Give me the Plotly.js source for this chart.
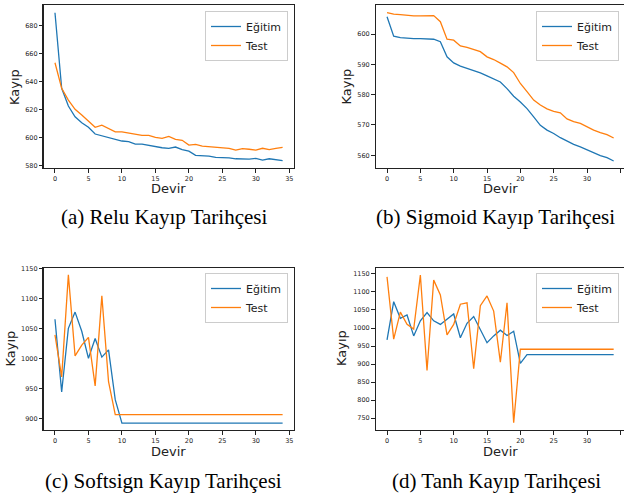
<!DOCTYPE html>
<html>
<head>
<meta charset="utf-8">
<script src="https://cdn.plot.ly/plotly-3.0.1.min.js"></script>
<style>html,body{margin:0;padding:0;background:#fff;}#chart{width:624px;height:497px;}</style>
</head>
<body>
<div id="chart"></div>
<script>
const epochs = [0,1,2,3,4,5,6,7,8,9,10,11,12,13,14,15,16,17,18,19,20,21,22,23,24,25,26,27,28,29,30,31,32,33,34];

const reluTrain = [689.5,635.4,622.7,615.0,610.8,607.5,602.7,601.5,600.3,598.9,597.7,597.2,595.5,595.5,594.6,593.9,592.9,592.5,593.4,591.5,590.5,587.4,587.4,586.9,586.0,586.0,585.6,585.0,584.8,584.8,585.3,584.1,585.0,584.3,583.6];
const reluTest  = [653.7,635.4,627.0,620.4,616.3,612.2,607.5,609.1,606.5,604.3,604.3,603.4,602.5,601.8,601.8,600.3,599.6,601.0,598.9,598.2,594.8,595.3,594.1,593.7,593.4,592.5,592.5,591.2,592.3,591.8,591.2,592.5,591.6,592.5,593.2];

const sigTrain = [605.7,599.3,598.8,598.6,598.5,598.5,598.5,598.3,597.5,592.5,590.5,589.4,588.7,588.0,587.2,586.2,585.2,584.2,582.0,579.5,577.6,575.4,572.7,569.9,568.3,567.2,565.8,564.7,563.6,562.8,561.8,560.9,559.9,559.2,558.1];
const sigTest  = [607.1,606.6,606.4,606.1,606.0,606.0,606.0,606.1,604.1,598.3,598.0,596.1,595.6,594.8,594.2,592.5,591.6,590.4,589.2,587.3,583.7,581.0,578.2,576.6,575.3,574.5,574.0,572.0,571.1,570.5,569.3,568.3,567.5,566.8,565.7];

const softTrain = [1065,944,1050,1077,1045,1000,1033,1002,1014,931,892,892,892,892,892,892,892,892,892,892,892,892,892,892,892,892,892,892,892,892,892,892,892,892,892];
const softTest  = [1039,969,1139,1004,1022,1035,954,1104,961,906,906,906,906,906,906,906,906,906,906,906,906,906,906,906,906,906,906,906,906,906,906,906,906,906,906];

const tanhTrain = [967,1073,1027,1036,978,1020,1043,1020,1010,1025,1039,973,1013,1032,994,959,978,994,979,991,902,926,926,926,926,926,926,926,926,926,926,926,926,926,926];
const tanhTest  = [1142,969,1044,1010,997,1147,882,1133,1092,981,1010,1066,1070,887,1062,1089,1047,905,1070,737,941,941,941,941,941,941,941,941,941,941,941,941,941,941,941];

const seriesNames = ['Eğitim','Test'];
const captions = ['(a) Relu Kayıp Tarihçesi','(b) Sigmoid Kayıp Tarihçesi','(c) Softsign Kayıp Tarihçesi','(d) Tanh Kayıp Tarihçesi'];
const xTitle = 'Devir';
const yTitle = 'Kayıp';

const W = 624, H = 497;
const px = v => v / W;
const py = v => 1 - v / H;

const BLUE = '#1f77b4', ORANGE = '#ff7f0e';
const panels = [
  {tr: reluTrain, te: reluTest, ax: '', yr: [578.4, 695], dt: 20},
  {tr: sigTrain, te: sigTest, ax: '2', yr: [555.8, 609.6], dt: 10},
  {tr: softTrain, te: softTest, ax: '3', yr: [880.5, 1150], dt: 50},
  {tr: tanhTrain, te: tanhTest, ax: '4', yr: [716.7, 1165.8], dt: 50}
];

const traces = [];
panels.forEach((p, i) => {
  const leg = i === 0 ? 'legend' : 'legend' + (i + 1);
  traces.push({x: epochs, y: p.tr, name: seriesNames[0], type: 'scatter', mode: 'lines',
    line: {color: BLUE, width: 1.3}, xaxis: 'x' + p.ax, yaxis: 'y' + p.ax, legend: leg});
  traces.push({x: epochs, y: p.te, name: seriesNames[1], type: 'scatter', mode: 'lines',
    line: {color: ORANGE, width: 1.3}, xaxis: 'x' + p.ax, yaxis: 'y' + p.ax, legend: leg});
});

const colL = [px(43.6), px(294)];
const colR = [px(375.7), 1];
const rowT = [py(168), py(5)];
const rowB = [py(430), py(268.3)];
const doms = [[colL, rowT], [colR, rowT], [colL, rowB], [colR, rowB]];
const xRanges = [[-1.7, 35.7], [-1.7, 35.55], [-1.7, 35.7], [-1.7, 35.55]];

const tickFont = {family: 'DejaVu Sans', size: 6.5, color: '#222'};
const axisCommon = {
  showgrid: false, zeroline: false, showline: true, mirror: true,
  linecolor: '#222', linewidth: 1.2, ticks: 'outside', ticklen: 3.5,
  tickwidth: 1, tickcolor: '#222', tickfont: tickFont, fixedrange: true
};

const layout = {
  width: W, height: H,
  margin: {l: 0, r: 0, t: 0, b: 0},
  paper_bgcolor: '#fff', plot_bgcolor: '#fff',
  font: {family: 'DejaVu Sans', color: '#222'},
  annotations: [],
  showlegend: true
};

panels.forEach((p, i) => {
  layout['xaxis' + p.ax] = Object.assign({}, axisCommon, {
    domain: doms[i][0], range: xRanges[i], tickmode: 'linear', tick0: 0, dtick: 5,
    anchor: 'y' + p.ax
  });
  layout['yaxis' + p.ax] = Object.assign({}, axisCommon, {
    domain: doms[i][1], range: p.yr, tickmode: 'linear', tick0: 0, dtick: p.dt,
    anchor: 'x' + p.ax
  });
});

const legendRight = [288, 619, 288, 619];
const legendTop = [11, 11, 273, 273];
panels.forEach((p, i) => {
  const key = i === 0 ? 'legend' : 'legend' + (i + 1);
  layout[key] = {
    x: px(legendRight[i]), y: py(legendTop[i]), xanchor: 'right', yanchor: 'top',
    bgcolor: 'rgba(255,255,255,0.8)', bordercolor: '#cccccc', borderwidth: 1,
    font: {family: 'DejaVu Sans', size: 11, color: '#222'},
    tracegroupgap: 0, itemwidth: 30
  };
});

// axis titles
const yTitlePos = [[14, 87], [345.5, 87], [9.5, 349], [341, 348]];
const xTitlePos = [[168.5, 189], [500, 189], [168.8, 451], [500, 451]];
for (let i = 0; i < 4; i++) {
  layout.annotations.push({text: yTitle, xref: 'paper', yref: 'paper',
    x: px(yTitlePos[i][0]), y: py(yTitlePos[i][1]), xanchor: 'center', yanchor: 'middle',
    textangle: -90, showarrow: false, font: {family: 'DejaVu Sans', size: 13, color: '#222'}});
  layout.annotations.push({text: xTitle, xref: 'paper', yref: 'paper',
    x: px(xTitlePos[i][0]), y: py(xTitlePos[i][1]), xanchor: 'center', yanchor: 'middle',
    showarrow: false, font: {family: 'DejaVu Sans', size: 13, color: '#222'}});
}
// captions
const capPos = [[163.7, 216.5], [495.5, 216.5], [163.7, 480.5], [496.5, 480.5]];
captions.forEach((c, i) => {
  layout.annotations.push({text: c, xref: 'paper', yref: 'paper',
    x: px(capPos[i][0]), y: py(capPos[i][1]), xanchor: 'center', yanchor: 'middle',
    showarrow: false, font: {family: 'Liberation Serif', size: 21, color: '#000'}});
});

Plotly.newPlot('chart', traces, layout, {staticPlot: true, displayModeBar: false});
</script>
</body>
</html>
